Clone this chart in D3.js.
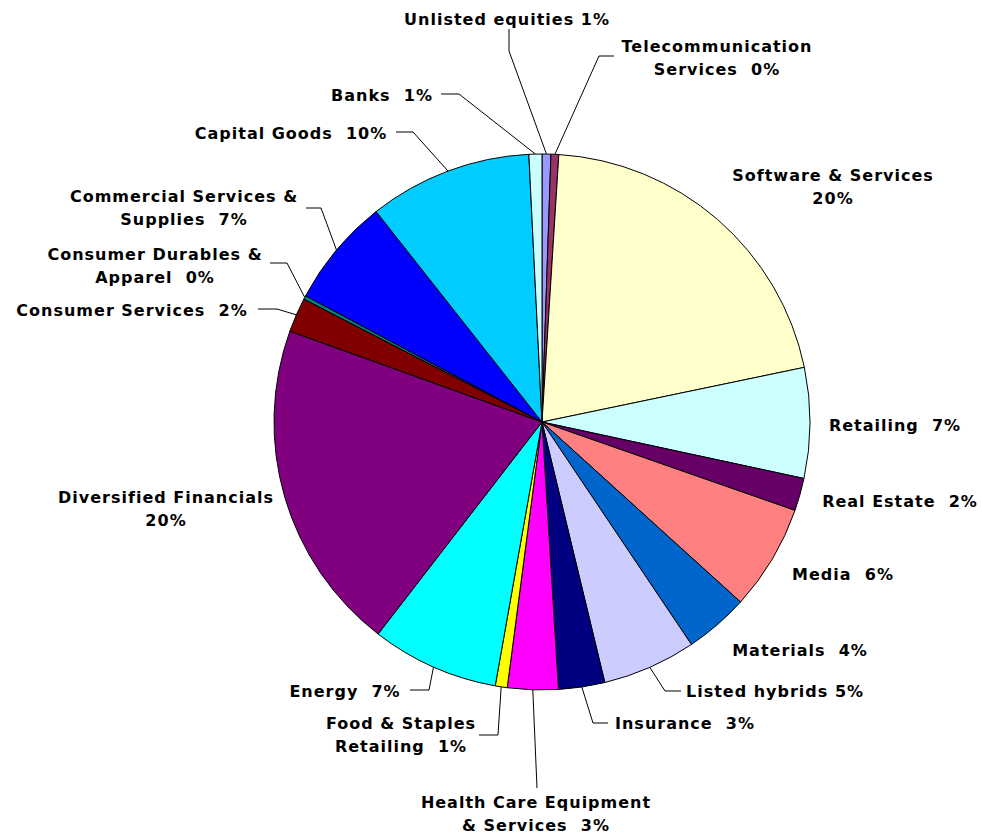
<!DOCTYPE html>
<html>
<head>
<meta charset="utf-8">
<script src="https://cdn.jsdelivr.net/npm/d3@7"></script>
<style>
  body { margin: 0; background: #fff; }
  .slice-label {
    font-family: "DejaVu Sans", Verdana, sans-serif;
    font-weight: bold;
    font-size: 16px;
    letter-spacing: 1px;
    fill: #000;
  }
</style>
</head>
<body>
<div id="chart"></div>
<script>
// Sectors in drawing order, clockwise from 12 o'clock
const categories = [
    "Unlisted equities", "Telecommunication Services", "Software & Services",
    "Retailing", "Real Estate", "Media", "Materials", "Listed hybrids",
    "Insurance", "Health Care Equipment & Services", "Food & Staples Retailing",
    "Energy", "Diversified Financials", "Consumer Services",
    "Consumer Durables & Apparel", "Commercial Services & Supplies",
    "Capital Goods", "Banks"
];

// share of the portfolio (%)
const shares = [
    0.53, 0.47, 20.7, 6.64, 1.97, 6.36, 3.86, 5.64, 2.78,
    3.05, 0.72, 7.67, 20.0, 2.08, 0.22, 6.56, 9.83, 0.78
];

// percentages as printed on the labels
const pctLabels = [
    "1%", "0%", "20%", "7%", "2%", "6%", "4%", "5%", "3%",
    "3%", "1%", "7%", "20%", "2%", "0%", "7%", "10%", "1%"
];

// Excel 2003 chart fill palette, in series order
const sliceColors = [
    "#9999FF", "#993366", "#FFFFCC", "#CCFFFF", "#660066", "#FF8080",
    "#0066CC", "#CCCCFF", "#000080", "#FF00FF", "#FFFF00", "#00FFFF",
    "#800080", "#800000", "#008080", "#0000FF", "#00CCFF", "#CCFFFF"
];

// label rows, "{p}" gets the percentage
const labelRows = [
    ["Unlisted equities {p}"],
    ["Telecommunication", "Services  {p}"],
    ["Software & Services", "{p}"],
    ["Retailing  {p}"],
    ["Real Estate  {p}"],
    ["Media  {p}"],
    ["Materials  {p}"],
    ["Listed hybrids {p}"],
    ["Insurance  {p}"],
    ["Health Care Equipment", "& Services  {p}"],
    ["Food & Staples", "Retailing  {p}"],
    ["Energy  {p}"],
    ["Diversified Financials", "{p}"],
    ["Consumer Services  {p}"],
    ["Consumer Durables &", "Apparel  {p}"],
    ["Commercial Services &", "Supplies  {p}"],
    ["Capital Goods  {p}"],
    ["Banks  {p}"]
];

// label placement relative to the pie centre (centre of first row)
const labelOffsets = [
    [-35, -403], [175, -376], [291, -247], [353, 3], [358, 79], [301, 152],
    [258, 228], [233, 269], [143, 301], [-6, 380], [-141, 301], [-197, 269],
    [-376, 75], [-410, -112], [-387, -168], [-358, -226], [-251, -289], [-160, -327]
];

// leader line bend points relative to the pie centre, null = no leader
const leaderBends = [
    [[-33, -371], [-33, -393]],
    [[57, -366], [72, -366]],
    null, null, null, null, null,
    [[123, 269], [139, 269]],
    [[51, 301], [66, 301]],
    [[-5, 366]],
    [[-44, 313], [-63, 313]],
    [[-113, 268], [-132, 268]],
    null,
    [[-265, -113], [-284, -113]],
    [[-255, -159], [-272, -159]],
    [[-221, -214], [-236, -214]],
    [[-129, -290], [-146, -290]],
    [[-83, -328], [-101, -328]]
];

class PieChart {
    constructor(containerId) {
        this.containerId = containerId;
        this.width = 983;
        this.height = 836;
        this.cx = 542;
        this.cy = 422;
        this.radius = 268;
        this.lineHeight = 23.5;

        this.initVis();
    }

    initVis() {
        const vis = this;

        vis.svg = d3.select(`#${vis.containerId}`)
            .append("svg")
            .attr("width", vis.width)
            .attr("height", vis.height);

        vis.g = vis.svg.append("g")
            .attr("transform", `translate(${vis.cx},${vis.cy})`);

        vis.pie = d3.pie()
            .value(d => d.value)
            .sort(null);

        vis.arc = d3.arc()
            .innerRadius(0)
            .outerRadius(vis.radius);

        vis.wrangleData();
    }

    wrangleData() {
        const vis = this;

        vis.displayData = categories.map((c, i) => ({
            name: c,
            value: shares[i],
            color: sliceColors[i],
            rows: labelRows[i].map(r => r.replace("{p}", pctLabels[i])),
            offset: labelOffsets[i],
            bends: leaderBends[i]
        }));

        vis.updateVis();
    }

    updateVis() {
        const vis = this;
        const arcs = vis.pie(vis.displayData);

        // slices
        vis.g.selectAll(".slice")
            .data(arcs)
            .join("path")
            .attr("class", "slice")
            .attr("d", vis.arc)
            .attr("fill", d => d.data.color)
            .attr("stroke", "#000")
            .attr("stroke-width", 1)
            .attr("stroke-linejoin", "round");

        // leader lines: from the rim at the slice's mid angle to the label
        const line = d3.line();
        vis.g.selectAll(".leader")
            .data(arcs.filter(d => d.data.bends))
            .join("path")
            .attr("class", "leader")
            .attr("fill", "none")
            .attr("stroke", "#000")
            .attr("stroke-width", 1)
            .attr("d", d => {
                const mid = (d.startAngle + d.endAngle) / 2;
                const start = [vis.radius * Math.sin(mid), -vis.radius * Math.cos(mid)];
                return line([start, ...d.data.bends]);
            });

        // labels
        const labels = vis.g.selectAll(".slice-label")
            .data(arcs)
            .join("text")
            .attr("class", "slice-label")
            .attr("text-anchor", "middle")
            .attr("transform", d => `translate(${d.data.offset[0]},${d.data.offset[1]})`);

        labels.selectAll("tspan")
            .data(d => d.data.rows)
            .join("tspan")
            .attr("x", 0)
            .attr("y", (r, i) => i * vis.lineHeight)
            .attr("dy", "0.35em")
            .style("white-space", "pre")
            .text(r => r);
    }
}

new PieChart("chart");
</script>
</body>
</html>
